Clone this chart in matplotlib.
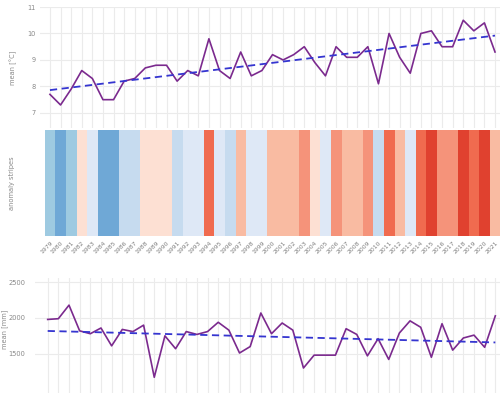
import numpy as np
import matplotlib
matplotlib.use("Agg")
import matplotlib.pyplot as plt

years = list(range(1979, 2022))
temp_mean = [7.7, 7.3, 7.9, 8.6, 8.3, 7.5, 7.5, 8.2, 8.3, 8.7, 8.8, 8.8, 8.2, 8.6,
             8.4, 9.8, 8.6, 8.3, 9.3, 8.4, 8.6, 9.2, 9.0, 9.2, 9.5, 8.9, 8.4, 9.5,
             9.1, 9.1, 9.5, 8.1, 10.0, 9.1, 8.5, 10.0, 10.1, 9.5, 9.5, 10.5, 10.1,
             10.4, 9.3]
precip_mean = [1980, 1990, 2180, 1820, 1780, 1860, 1610, 1840, 1810, 1900, 1170,
               1750, 1570, 1810, 1770, 1810, 1940, 1830, 1510, 1600, 2070, 1780,
               1930, 1830, 1300, 1480, 1480, 1480, 1850, 1770, 1470, 1710, 1420,
               1790, 1960, 1870, 1450, 1920, 1550, 1720, 1760, 1590, 2030]
# anomaly class per year (negative = colder, positive = warmer)
anomaly_level = [-3, -4, -3, 1, -1, -4, -4, -2, -2, 1, 1, 1, -2, -1, -1, 4, -1, -2,
                 2, -1, -1, 2, 2, 2, 3, 1, -1, 3, 2, 2, 3, -2, 4, 2, -1, 4, 5, 3,
                 3, 5, 4, 5, 2]
level_colors = {-4: '#6fa8d6', -3: '#9ecae1', -2: '#c6dbef', -1: '#dee8f6',
                1: '#fde0d3', 2: '#f9bba2', 3: '#f5937a', 4: '#f06b4f', 5: '#e0412f'}

W, H = 500, 393
fig = plt.figure(figsize=(W / 100, H / 100), dpi=100)

def px_axes(left, top, right, bottom):
    return fig.add_axes([left / W, 1 - bottom / H, (right - left) / W, (bottom - top) / H])

grid_c = '#ebebeb'
tick_c = '#888888'
line_c = '#7b2a8e'
trend_c = '#3535d0'
x = np.array(years)

def style(ax, pad):
    for s in ax.spines.values():
        s.set_visible(False)
    ax.tick_params(length=0, labelsize=4.8, labelcolor=tick_c, pad=pad)

# Top panel: temperature
ax1 = px_axes(40, 7, 500, 128)
style(ax1, 3)
ax1.set_xlim(1978.06, 2021.47)
ax1.set_ylim(6.43, 11)
ax1.set_yticks([7, 8, 9, 10, 11])
ax1.set_xticks(years)
ax1.set_xticklabels([])
ax1.grid(True, color=grid_c, lw=0.8)
ax1.set_axisbelow(True)
ax1.plot(x, temp_mean, color=line_c, lw=1.2)
p = np.polyfit(x, temp_mean, 1)
ax1.plot(x, np.polyval(p, x), color=trend_c, lw=1.3, ls=(0, (4, 2.5)))
ax1.set_ylabel('mean [°C]', fontsize=4.8, color=tick_c, va='center')
ax1.yaxis.set_label_coords((13 - 40) / 460, 0.5)

# Middle panel: anomaly stripes
ax2 = px_axes(44.7, 130, 500.5, 236)
style(ax2, 3)
ax2.set_xlim(1978.5, 2021.5)
ax2.set_ylim(0, 1)
ax2.bar(x, [1] * len(x), width=1.0, color=[level_colors[v] for v in anomaly_level],
        linewidth=0)
ax2.set_yticks([])
ax2.set_xticks(years)
ax2.set_xticklabels([str(y) for y in years], rotation=45, ha='right',
                    rotation_mode='anchor', fontsize=4.4, color='#808080')
ax2.set_ylabel('anomaly stripes', fontsize=4.8, color=tick_c, va='center')
ax2.yaxis.set_label_coords((12 - 44.7) / 455.8, 0.5)

# Bottom panel: precipitation
ax3 = px_axes(35, 278, 500, 393)
style(ax3, 7)
ax3.set_xlim(1977.81, 2021.44)
ax3.set_ylim(950, 2560)
ax3.set_yticks([1500, 2000, 2500])
ax3.set_xticks(years)
ax3.set_xticklabels([])
ax3.grid(True, color=grid_c, lw=0.8)
ax3.set_axisbelow(True)
ax3.plot(x, precip_mean, color=line_c, lw=1.2)
q = np.polyfit(x, precip_mean, 1)
ax3.plot(x, np.polyval(q, x), color=trend_c, lw=1.3, ls=(0, (4, 2.5)))
ax3.set_ylabel('mean [mm]', fontsize=4.8, color=tick_c, va='center')
ax3.yaxis.set_label_coords((5 - 35) / 465, 0.55)

fig.savefig('out.png', dpi=100)
